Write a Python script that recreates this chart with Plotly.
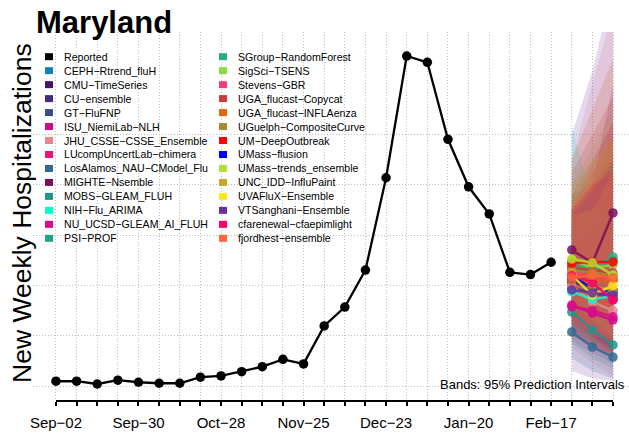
import plotly.graph_objects as go

# ---------------- data ----------------
reported_dates = [
    "2023-09-02", "2023-09-09", "2023-09-16", "2023-09-23", "2023-09-30",
    "2023-10-07", "2023-10-14", "2023-10-21", "2023-10-28", "2023-11-04",
    "2023-11-11", "2023-11-18", "2023-11-25", "2023-12-02", "2023-12-09",
    "2023-12-16", "2023-12-23", "2023-12-30", "2024-01-06", "2024-01-13",
    "2024-01-20", "2024-01-27", "2024-02-03", "2024-02-10", "2024-02-17",
]
reported_values = [19, 19, 8, 23, 15, 11, 11, 35, 40, 57, 77, 106, 88, 239, 314,
                   461, 828, 1312, 1287, 981, 792, 684, 452, 443, 492]

forecast_dates = ["2024-02-24", "2024-03-02", "2024-03-09"]

tick_labels = ["Sep-02", "", "", "", "Sep-30", "", "", "", "Oct-28", "", "", "",
               "Nov-25", "", "", "", "Dec-23", "", "", "", "Jan-20", "", "", "",
               "Feb-17", "", "", ""]

model_names = [
    "CEPH-Rtrend_fluH", "CMU-TimeSeries", "CU-ensemble", "GT-FluFNP",
    "ISU_NiemiLab-NLH", "JHU_CSSE-CSSE_Ensemble", "LUcompUncertLab-chimera",
    "LosAlamos_NAU-CModel_Flu", "MIGHTE-Nsemble", "MOBS-GLEAM_FLUH",
    "NIH-Flu_ARIMA", "NU_UCSD-GLEAM_AI_FLUH", "PSI-PROF",
    "SGroup-RandomForest", "SigSci-TSENS", "Stevens-GBR", "UGA_flucast-Copycat",
    "UGA_flucast-INFLAenza", "UGuelph-CompositeCurve", "UM-DeepOutbreak",
    "UMass-flusion", "UMass-trends_ensemble", "UNC_IDD-InfluPaint",
    "UVAFluX-Ensemble", "VTSanghani-Ensemble", "cfarenewal-cfaepimlight",
    "fjordhest-ensemble",
]
model_colors = [
    "#1380B8", "#4B1165", "#472A7A", "#3B4C8B", "#CC0A8C", "#E8868F", "#E0187E",
    "#31688E", "#7A0F5B", "#21958A", "#00FFCC", "#DB0A8A", "#20A386",
    "#29AF7F", "#8CD941", "#FF3A7A", "#CF3A3A", "#E8640A", "#A88A30", "#FF0000",
    "#0000FF", "#B3E02F", "#C8A825", "#FFE619", "#6A2F9D", "#FF0066", "#FF6633",
]
median_values = [
    [420, 390, 370], [420, 400, 380], [410, 395, 380], [390, 370, 350],
    [322, 290, 262], [400, 334, 300], [449, 410, 342], [215, 155, 115],
    [541, 490, 688], [294, 223, 163], [374, 345, 358], [315, 300, 275],
    [470, 455, 500], [480, 470, 513], [500, 470, 481], [449, 440, 420],
    [470, 460, 450], [421, 421, 421], [460, 450, 440], [489, 493, 493],
    [430, 400, 374], [505, 490, 441], [450, 400, 380], [440, 362, 400],
    [382, 370, 360], [440, 410, 342], [430, 440, 430],
]
lower_values = [
    [250, 190, 140], [280, 220, 170], [240, 180, 130], [230, 170, 120],
    [180, 130, 90], [150, 90, 40], [220, 160, 110], [110, 60, 30],
    [380, 300, 350], [170, 110, 70], [200, 170, 150], [200, 160, 120],
    [300, 250, 230], [330, 280, 260], [300, 230, 180], [260, 200, 150],
    [250, 190, 140], [200, 160, 120], [300, 240, 190], [320, 280, 240],
    [270, 200, 150], [330, 260, 200], [250, 170, 120], [280, 200, 180],
    [60, 30, 20], [280, 200, 130], [260, 210, 170],
]
upper_values = [
    [640, 760, 900], [620, 700, 820], [700, 850, 1000], [650, 780, 920],
    [560, 640, 720], [900, 1200, 1500], [720, 880, 1050], [420, 400, 380],
    [760, 800, 1200], [500, 460, 420], [1040, 720, 680], [520, 560, 600],
    [700, 800, 950], [650, 720, 850], [800, 950, 1100], [760, 900, 1050],
    [850, 1000, 1150], [900, 1100, 1300], [680, 780, 900], [700, 800, 900],
    [680, 780, 880], [760, 880, 980], [800, 900, 1000], [680, 700, 850],
    [1000, 1250, 1600], [700, 800, 850], [720, 850, 1000],
]

# ---------------- layout geometry (pixels) ----------------
W, H = 629, 433
ML, MR, MT, MB = 33, 0, 32, 32
PW, PH = W - ML - MR, H - MT - MB
FONT = "Liberation Sans, Arial, sans-serif"


def px_x(px):
    return (px - ML) / PW


def px_y(py):
    return (H - MB - py) / PH


def rgba(hexc, a):
    h = hexc.lstrip("#")
    r, g, b = int(h[0:2], 16), int(h[2:4], 16), int(h[4:6], 16)
    return f"rgba({r},{g},{b},{a})"


fig = go.Figure()

# prediction bands
for name, col, lo, hi in zip(model_names, model_colors, lower_values, upper_values):
    fig.add_trace(go.Scatter(
        x=forecast_dates + forecast_dates[::-1],
        y=hi + lo[::-1],
        fill="toself", fillcolor=rgba(col, 0.18),
        line=dict(width=0), mode="lines", hoverinfo="skip", showlegend=False,
    ))

# medians
for name, col, med in zip(model_names, model_colors, median_values):
    fig.add_trace(go.Scatter(
        x=forecast_dates, y=med, mode="lines+markers", name=name,
        line=dict(color=col, width=2.5), marker=dict(color=col, size=9.5),
        opacity=0.85, showlegend=False,
    ))

# reported
fig.add_trace(go.Scatter(
    x=reported_dates, y=reported_values, mode="lines+markers", name="Reported",
    line=dict(color="black", width=2.3), marker=dict(color="black", size=9.5),
    showlegend=False,
))

all_dates = reported_dates + forecast_dates
shapes = [dict(type="line", xref="x", yref="paper", x0=all_dates[0], x1=all_dates[-1],
               y0=0, y1=0, line=dict(color="black", width=2))]
annotations = []

# custom two-column legend
legend_names = ["Reported"] + model_names
legend_colors = ["#000000"] + model_colors
rows = 14
for i, (nm, col) in enumerate(zip(legend_names, legend_colors)):
    c, r = divmod(i, rows)
    sx = 45 if c == 0 else 219
    tx = 62.5 if c == 0 else 237
    cy = 56.7 + r * 13.97
    shapes.append(dict(type="rect", xref="paper", yref="paper",
                       x0=px_x(sx), x1=px_x(sx + 8), y0=px_y(cy + 3.5), y1=px_y(cy - 3.5),
                       fillcolor=col, line=dict(width=0)))
    annotations.append(dict(xref="paper", yref="paper", x=px_x(tx), y=px_y(cy),
                            xanchor="left", yanchor="middle", showarrow=False,
                            borderpad=0, text=nm.replace("-", "\u2212"),
                            font=dict(family=FONT, size=10.6, color="black")))

# title
annotations.append(dict(xref="paper", yref="paper", x=px_x(34), y=px_y(22.5),
                        xanchor="left", yanchor="middle", showarrow=False,
                        text="Maryland",
                        font=dict(family=FONT, size=31, color="black", weight="bold")))
# y-axis title
annotations.append(dict(xref="paper", yref="paper", x=px_x(22), y=px_y(213),
                        xanchor="center", yanchor="middle", showarrow=False,
                        textangle=-90, text="New Weekly Hospitalizations",
                        font=dict(family=FONT, size=26.5, color="black")))
# bands note
annotations.append(dict(xref="paper", yref="paper", x=px_x(627), y=px_y(384),
                        xanchor="right", yanchor="middle", showarrow=False,
                        text="Bands: 95% Prediction Intervals",
                        font=dict(family=FONT, size=13, color="black")))

grid_style = dict(showgrid=True, gridcolor="#BEBEBE", gridwidth=1, griddash="1px,2px")

fig.update_layout(
    width=W, height=H,
    margin=dict(l=ML, r=MR, t=MT, b=MB),
    paper_bgcolor="white", plot_bgcolor="white",
    showlegend=False,
    shapes=shapes, annotations=annotations,
    font=dict(family=FONT, color="black"),
    xaxis=dict(
        type="date", range=["2023-08-25 05:00", "2024-03-14 10:00"],
        tickmode="array", tickvals=all_dates,
        ticktext=[t.replace("-", "\u2212") for t in tick_labels],
        ticks="outside", ticklen=4, tickwidth=2, tickcolor="black",
        tickfont=dict(family=FONT, size=15, color="black"),
        ticklabelstandoff=4,
        showline=False, zeroline=False, **grid_style,
    ),
    yaxis=dict(
        range=[-59.6, 1407.5], tickmode="array",
        tickvals=[0, 200, 400, 600, 800, 1000],
        showticklabels=False, ticks="",
        showline=False, zeroline=False, **grid_style,
    ),
)

fig.write_html("out.html", config={"displayModeBar": False},
               post_script="document.body.style.margin='0px';document.body.style.overflow='hidden';")
